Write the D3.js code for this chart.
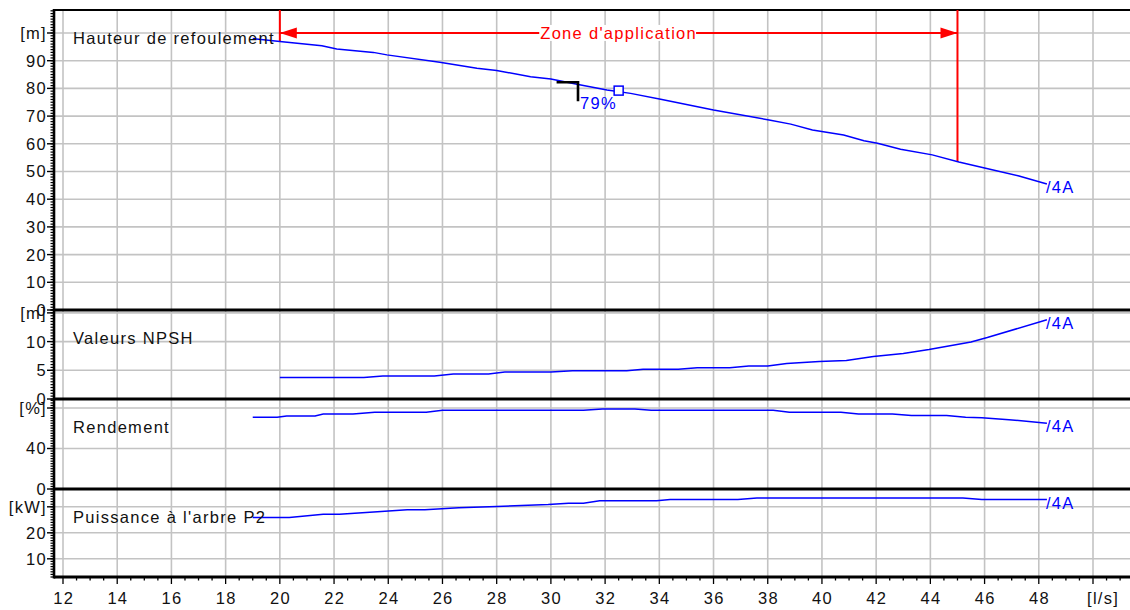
<!DOCTYPE html>
<html><head><meta charset="utf-8">
<script src="https://cdn.jsdelivr.net/npm/d3@7"></script>
<style>
body{margin:0;background:#fff}
svg{display:block}
text{font-family:Arial,"Liberation Sans",sans-serif}
</style>
</head><body>
<svg id="c" width="1130" height="610"></svg>
<script>
// ---------- data ----------
const xTicks = [12,14,16,18,20,22,24,26,28,30,32,34,36,38,40,42,44,46,48];
const xUnit = "[l/s]";

const flowHead = [19.0,20.0,21.55,22.1,23.45,23.95,25.9,27.27,28.0,29.25,30.0,30.96,32.07,32.94,34.05,36.0,38.05,38.85,39.65,40.8,41.55,42.05,42.9,44.07,45.05,46.04,47.27,48.3];
const head     = [98.0,96.9,95.4,94.2,93.0,92.1,89.4,87.3,86.5,84.2,83.4,81.5,79.4,78.2,76.1,72.2,68.6,67.1,65.0,63.2,61.1,60.2,58.0,56.0,53.4,51.2,48.4,45.5];

const flowNpsh = [20.0,23.1,23.8,25.7,26.4,27.7,28.3,30.0,30.8,32.8,33.4,34.7,35.4,36.6,37.3,38.0,38.7,39.9,40.9,41.9,43.0,43.95,45.5,46.1,48.3];
const npsh     = [3.74,3.74,4.02,4.02,4.37,4.37,4.71,4.71,4.94,4.94,5.17,5.17,5.46,5.46,5.75,5.75,6.2,6.55,6.72,7.41,7.93,8.62,9.94,10.7,13.8];

const flowEff = [19.0,19.9,20.25,21.3,21.6,22.7,23.5,25.4,26.0,31.2,31.9,33.1,33.7,38.2,38.8,40.7,41.35,42.6,43.3,44.6,45.3,45.9,46.9,48.3];
const eff     = [70.8,70.8,72.2,72.2,74.1,74.1,75.7,75.7,77.7,77.7,79.0,79.0,77.7,77.7,75.7,75.7,74.1,74.1,72.5,72.5,70.8,70.5,68.5,65.0];

const flowPow = [19.0,20.35,21.6,22.2,23.6,24.7,25.35,26.6,28.0,29.9,30.65,31.2,31.8,33.9,34.4,36.9,37.6,45.2,45.9,48.3];
const power   = [25.9,25.9,27.1,27.1,28.1,28.9,28.9,29.6,30.1,30.9,31.4,31.4,32.3,32.3,32.8,32.8,33.4,33.4,32.8,32.8];

const headTicks = [0,10,20,30,40,50,60,70,80,90];
const npshTicks = [0,5,10];
const effTicks  = [0,40];
const powTicks  = [10,20];
const unitTicks = [100,15,80,30];
const unitLabels = ["[m]","[m]","[%]","[kW]"];
const panelTitles = ["Hauteur de refoulement","Valeurs NPSH","Rendement","Puissance à l'arbre P2"];
const curveLabel = "/4A";

const zoneFlow = [20,45];
const zoneLevel = 100;
const zoneLabel = "Zone d'application";
const bepFlow = 32.5, bepHead = 79.2, bepLabel = "79%";
const bracketFlow = [30.21,31.0];
const bracketHead = [82.2,75.4];

// ---------- layout ----------
const svg = d3.select("#c");
const X0 = 54, X1 = 1130;
const x = d3.scaleLinear().domain([12,50]).range([63,1093]);

const panels = [
  {y: d3.scaleLinear().domain([0,108.3]).range([310,10]), top:10, bottom:310, ticks:headTicks, minor:1,
   grid:d3.range(10,101,10), flows:flowHead, vals:head},
  {y: d3.scaleLinear().domain([0,15.5]).range([399,310]), top:310, bottom:399, ticks:npshTicks, minor:0.5,
   grid:[5,10,15], flows:flowNpsh, vals:npsh},
  {y: d3.scaleLinear().domain([0,88.9]).range([489,399]), top:399, bottom:489, ticks:effTicks, minor:2.5,
   grid:[40,80], flows:flowEff, vals:eff},
  {y: d3.scaleLinear().domain([3,36.85]).range([577,489]), top:489, bottom:577, ticks:powTicks, minor:1,
   grid:[10,20,30], flows:flowPow, vals:power}
];

const GRID = "#c3c3c3";
const BLUE = "#0000ff";
const RED = "#ff0000";
const FS = 16.5, LS = 1.3;

// vertical grid
const gGrid = svg.append("g");
gGrid.selectAll("line.v").data(xTicks.concat([50])).join("line")
  .attr("x1", d=>x(d)).attr("x2", d=>x(d)).attr("y1", 10).attr("y2", 577)
  .attr("stroke", GRID).attr("stroke-width", 1.6);

// horizontal grids
panels.forEach(p=>{
  gGrid.selectAll(null).data(p.grid).join("line")
    .attr("x1", X0).attr("x2", X1).attr("y1", d=>p.y(d)).attr("y2", d=>p.y(d))
    .attr("stroke", GRID).attr("stroke-width", 1.6);
});

// left axis ticks
const gAx = svg.append("g");
panels.forEach((p,i)=>{
  const [d0,d1] = p.y.domain();
  const minors = d3.range(Math.ceil(d0/p.minor)*p.minor, d1+1e-9, p.minor)
    .filter(v=>p.y(v) >= p.top-0.5 && p.y(v) <= p.bottom+0.5);
  gAx.selectAll(null).data(minors).join("line")
    .attr("x1", X0-3.5).attr("x2", X0).attr("y1", d=>p.y(d)).attr("y2", d=>p.y(d))
    .attr("stroke","#000").attr("stroke-width",1.2);
  const majors = p.ticks.concat([unitTicks[i]]);
  gAx.selectAll(null).data(majors).join("line")
    .attr("x1", X0-7).attr("x2", X0).attr("y1", d=>p.y(d)).attr("y2", d=>p.y(d))
    .attr("stroke","#000").attr("stroke-width",1.4);
  gAx.selectAll(null).data(p.ticks).join("text")
    .attr("x", X0-7).attr("y", d=>p.y(d)).attr("dy","0.36em")
    .attr("text-anchor","end").attr("font-size",FS).attr("letter-spacing",LS)
    .attr("fill","#111").text(d=>d);
  gAx.append("text").attr("x", X0-7).attr("y", p.y(unitTicks[i])).attr("dy","0.36em")
    .attr("text-anchor","end").attr("font-size",FS).attr("letter-spacing",LS)
    .attr("fill","#111").text(unitLabels[i]);
});

// x axis ticks
const xMinor = d3.range(12, 51.01, 0.5);
gAx.selectAll(null).data(xMinor).join("line")
  .attr("x1", d=>x(d)).attr("x2", d=>x(d)).attr("y1", 577).attr("y2", d=> (d%2===0)?584:580.5)
  .attr("stroke","#000").attr("stroke-width",1.3);
gAx.selectAll(null).data(xTicks).join("text")
  .attr("x", d=>x(d)+LS/2).attr("y", 604).attr("text-anchor","middle")
  .attr("font-size",FS).attr("letter-spacing",LS).attr("fill","#111").text(d=>d);
gAx.append("text").attr("x", x(50)-6).attr("y", 604)
  .attr("font-size",FS).attr("letter-spacing",LS).attr("fill","#111").text(xUnit);

// frame lines
svg.append("line").attr("x1",X0).attr("x2",X1).attr("y1",10).attr("y2",10).attr("stroke","#000").attr("stroke-width",2);
panels.slice(1).forEach(p=>{
  svg.append("line").attr("x1",X0).attr("x2",X1).attr("y1",p.top).attr("y2",p.top).attr("stroke","#000").attr("stroke-width",3.2);
});
svg.append("line").attr("x1",X0).attr("x2",X1).attr("y1",577).attr("y2",577).attr("stroke","#000").attr("stroke-width",3);
svg.append("line").attr("x1",X0).attr("x2",X0).attr("y1",9).attr("y2",578.5).attr("stroke","#000").attr("stroke-width",2.6);

// zone d'application
const yH = panels[0].y;
const headAt = f => {
  const i = d3.bisectRight(flowHead, f) - 1;
  const t = (f - flowHead[i]) / (flowHead[i+1] - flowHead[i]);
  return head[i] + t*(head[i+1]-head[i]);
};
const gZ = svg.append("g");
zoneFlow.forEach(f=>{
  gZ.append("line").attr("x1",x(f)).attr("x2",x(f)).attr("y1",10).attr("y2",yH(headAt(f)))
    .attr("stroke",RED).attr("stroke-width",2);
});
gZ.append("line").attr("x1",x(zoneFlow[0])).attr("x2",x(zoneFlow[1]))
  .attr("y1",yH(zoneLevel)).attr("y2",yH(zoneLevel)).attr("stroke",RED).attr("stroke-width",2);
const ay = yH(zoneLevel);
gZ.append("path").attr("fill",RED)
  .attr("d",`M${x(zoneFlow[0])},${ay}L${x(zoneFlow[0])+17},${ay-5.5}L${x(zoneFlow[0])+17},${ay+5.5}Z`);
gZ.append("path").attr("fill",RED)
  .attr("d",`M${x(zoneFlow[1])},${ay}L${x(zoneFlow[1])-17},${ay-5.5}L${x(zoneFlow[1])-17},${ay+5.5}Z`);
const zt = gZ.append("text").attr("x", x(bepFlow)).attr("y", ay).attr("dy","0.36em")
  .attr("text-anchor","middle").attr("font-size",FS).attr("letter-spacing",LS)
  .attr("fill",RED).text(zoneLabel);
const bb = zt.node().getBBox();
gZ.insert("rect","text").attr("x",bb.x-1).attr("y",bb.y+1).attr("width",bb.width).attr("height",bb.height-2).attr("fill","#fff");

// curves
const gC = svg.append("g");
panels.forEach(p=>{
  const pts = p.flows.map((f,i)=>[x(f), p.y(p.vals[i])]);
  gC.append("path").attr("d", d3.line()(pts)).attr("fill","none")
    .attr("stroke",BLUE).attr("stroke-width",1.5);
  const last = pts[pts.length-1];
  gC.append("text").attr("x", last[0]-1).attr("y", last[1]+9)
    .attr("font-size",FS).attr("letter-spacing",LS).attr("fill",BLUE).text(curveLabel);
});

// titles
panels.forEach((p,i)=>{
  svg.append("text").attr("x",73).attr("y",p.top+34).attr("font-size",FS).attr("letter-spacing",LS)
    .attr("fill","#111").text(panelTitles[i]);
});

// best efficiency point
svg.append("path").attr("fill","none").attr("stroke","#000").attr("stroke-width",2.6)
  .attr("d",`M${x(bracketFlow[0])},${yH(bracketHead[0])}H${x(bracketFlow[1])}V${yH(bracketHead[1])}`);
svg.append("rect").attr("x",x(bepFlow)-4.5).attr("y",yH(bepHead)-4.5).attr("width",9).attr("height",9)
  .attr("fill","#fff").attr("stroke",BLUE).attr("stroke-width",1.5);
svg.append("text").attr("x",x(bracketFlow[1])+2).attr("y",yH(bracketHead[1])+8)
  .attr("font-size",FS).attr("letter-spacing",LS).attr("fill",BLUE).text(bepLabel);
</script>
</body></html>
